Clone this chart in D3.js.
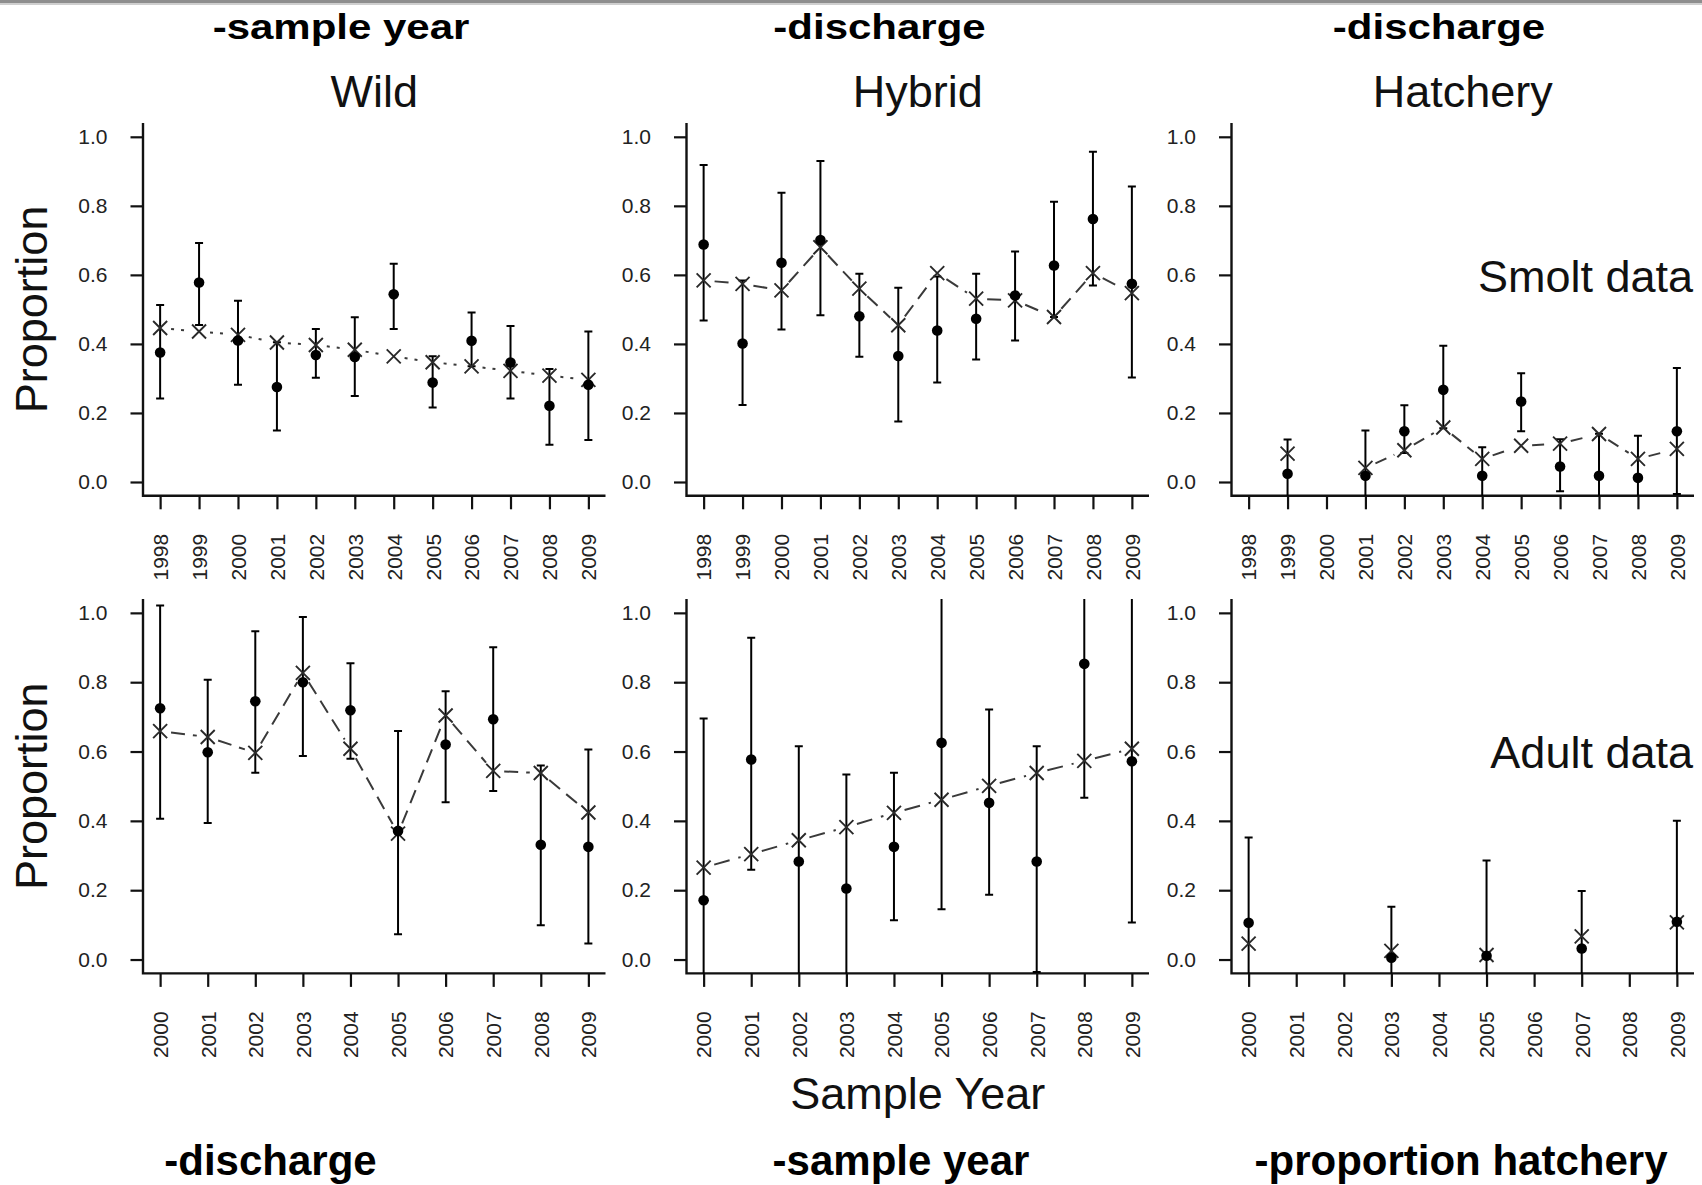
<!DOCTYPE html>
<html>
<head>
<meta charset="utf-8">
<script src="https://cdnjs.cloudflare.com/ajax/libs/d3/7.8.5/d3.min.js"></script>
<style>
  body { margin: 0; background: #fff; }
  svg { display: block; }
</style>
</head>
<body>
<svg id="chart"></svg>
<script>
/* global d3 */

// years on the x axes
const smoltYears = [1998, 1999, 2000, 2001, 2002, 2003, 2004, 2005, 2006, 2007, 2008, 2009];
const adultYears = [2000, 2001, 2002, 2003, 2004, 2005, 2006, 2007, 2008, 2009];
const yTicks = [0, 0.2, 0.4, 0.6, 0.8, 1.0];

const groupTitles = ['Wild', 'Hybrid', 'Hatchery'];
const rowNotes = ['Smolt data', 'Adult data'];
const topNotes = ['-sample year', '-discharge', '-discharge'];
const bottomNotes = ['-discharge', '-sample year', '-proportion hatchery'];

// smolt data (observed proportion, lower / upper bar, model fit)
const wildSmoltObs = [0.375, 0.578, 0.41, 0.275, 0.368, 0.362, 0.544, 0.288, 0.409, 0.346, 0.221, 0.282];
const wildSmoltLo  = [0.242, 0.455, 0.282, 0.149, 0.302, 0.249, 0.443, 0.216, 0.335, 0.242, 0.108, 0.122];
const wildSmoltHi  = [0.513, 0.692, 0.525, 0.405, 0.443, 0.477, 0.632, 0.364, 0.491, 0.452, 0.327, 0.436];
const wildSmoltFit = [0.446, 0.436, 0.426, 0.404, 0.397, 0.383, 0.364, 0.347, 0.335, 0.322, 0.308, 0.296];

const hybridSmoltObs = [0.688, 0.401, 0.635, 0.701, 0.48, 0.365, 0.439, 0.473, 0.54, 0.627, 0.762, 0.574];
const hybridSmoltLo  = [0.468, 0.223, 0.442, 0.483, 0.363, 0.175, 0.288, 0.355, 0.41, 0.478, 0.569, 0.303];
const hybridSmoltHi  = [0.918, 0.584, 0.838, 0.93, 0.603, 0.563, 0.595, 0.603, 0.668, 0.812, 0.957, 0.856];
const hybridSmoltFit = [0.584, 0.574, 0.555, 0.68, 0.56, 0.454, 0.605, 0.531, 0.526, 0.478, 0.605, 0.547];

const hatcherySmoltObs = [null, 0.024, null, 0.018, 0.147, 0.267, 0.018, 0.233, 0.045, 0.018, 0.012, 0.147];
const hatcherySmoltLo  = [null, -0.06, null, -0.06, 0.084, 0.156, -0.06, 0.147, -0.027, -0.06, -0.06, -0.035];
const hatcherySmoltHi  = [null, 0.123, null, 0.149, 0.222, 0.395, 0.101, 0.315, 0.124, 0.14, 0.134, 0.33];
const hatcherySmoltFit = [null, 0.082, null, 0.041, 0.092, 0.158, 0.067, 0.105, 0.111, 0.139, 0.067, 0.096];

// adult data
const wildAdultObs = [0.725, 0.598, 0.745, 0.80, 0.719, 0.371, 0.62, 0.693, 0.331, 0.325];
const wildAdultLo  = [0.406, 0.394, 0.539, 0.587, 0.579, 0.073, 0.454, 0.486, 0.099, 0.046];
const wildAdultHi  = [1.021, 0.807, 0.947, 0.988, 0.855, 0.659, 0.774, 0.901, 0.56, 0.606];
const wildAdultFit = [0.659, 0.642, 0.596, 0.827, 0.608, 0.363, 0.704, 0.544, 0.538, 0.424];

const hybridAdultObs = [0.171, 0.577, 0.283, 0.205, 0.325, 0.625, 0.452, 0.283, 0.853, 0.572];
const hybridAdultLo  = [-0.1, 0.259, -0.1, -0.1, 0.113, 0.145, 0.187, -0.036, 0.467, 0.107];
const hybridAdultHi  = [0.695, 0.928, 0.615, 0.534, 0.539, 1.1, 0.721, 0.615, 1.1, 1.1];
const hybridAdultFit = [0.265, 0.304, 0.344, 0.382, 0.423, 0.461, 0.501, 0.538, 0.573, 0.608];

const hatcheryAdultObs = [0.106, null, null, 0.005, null, 0.011, null, 0.032, null, 0.109];
const hatcheryAdultLo  = [-0.1, null, null, -0.1, null, -0.1, null, -0.1, null, -0.1];
const hatcheryAdultHi  = [0.352, null, null, 0.152, null, 0.286, null, 0.198, null, 0.40];
const hatcheryAdultFit = [0.046, null, null, 0.025, null, 0.013, null, 0.067, null, 0.107];

// layout
const config = {
  width: 1702,
  height: 1185,
  colLeft: [143, 686.5, 1231.5],
  plotWidth: 462.5,
  rows: [ { top: 123, bottom: 495.8 }, { top: 599, bottom: 973.4 } ],
  font: '"Liberation Sans", Arial, Helvetica, sans-serif',
};

const panels = [
  { row: 0, col: 0, years: smoltYears, obs: wildSmoltObs, lo: wildSmoltLo, hi: wildSmoltHi, fit: wildSmoltFit, dash: '3,7' },
  { row: 0, col: 1, years: smoltYears, obs: hybridSmoltObs, lo: hybridSmoltLo, hi: hybridSmoltHi, fit: hybridSmoltFit, dash: '14,8' },
  { row: 0, col: 2, years: smoltYears, obs: hatcherySmoltObs, lo: hatcherySmoltLo, hi: hatcherySmoltHi, fit: hatcherySmoltFit, dash: '12,8' },
  { row: 1, col: 0, years: adultYears, obs: wildAdultObs, lo: wildAdultLo, hi: wildAdultHi, fit: wildAdultFit, dash: '14,8' },
  { row: 1, col: 1, years: adultYears, obs: hybridAdultObs, lo: hybridAdultLo, hi: hybridAdultHi, fit: hybridAdultFit, dash: '16,9' },
  { row: 1, col: 2, years: adultYears, obs: hatcheryAdultObs, lo: hatcheryAdultLo, hi: hatcheryAdultHi, fit: hatcheryAdultFit, dash: '14,8' },
];

const svg = d3.select('#chart')
  .attr('width', config.width)
  .attr('height', config.height)
  .style('font-family', config.font);

// grey window edge at the very top
svg.append('rect').attr('x', 0).attr('y', 0).attr('width', config.width).attr('height', 3).attr('fill', '#8e8e8e');
svg.append('rect').attr('x', 0).attr('y', 3).attr('width', config.width).attr('height', 2).attr('fill', '#cfcfcf');

const defs = svg.append('defs');

panels.forEach((p, i) => drawPanel(p, i));

// titles over the columns
groupTitles.forEach((t, c) => {
  svg.append('text')
    .attr('x', config.colLeft[c] + config.plotWidth / 2)
    .attr('y', 107)
    .attr('text-anchor', 'middle')
    .attr('font-size', 45)
    .attr('fill', '#111')
    .text(t);
});

// row notes on the right
rowNotes.forEach((t, r) => {
  svg.append('text')
    .attr('x', 1693)
    .attr('y', r === 0 ? 292 : 768)
    .attr('text-anchor', 'end')
    .attr('font-size', 45)
    .attr('fill', '#111')
    .text(t);
});

// y axis titles
config.rows.forEach(rw => {
  const cy = (rw.top + rw.bottom) / 2;
  svg.append('text')
    .attr('transform', `translate(47, ${cy}) rotate(-90)`)
    .attr('text-anchor', 'middle')
    .attr('font-size', 45)
    .attr('fill', '#111')
    .text('Proportion');
});

// x axis title
svg.append('text')
  .attr('x', config.colLeft[1] + config.plotWidth / 2)
  .attr('y', 1109)
  .attr('text-anchor', 'middle')
  .attr('font-size', 45)
  .attr('fill', '#111')
  .text('Sample Year');

// bold notes added above and below the figure
topNotes.forEach((t, c) => {
  svg.append('text')
    .attr('transform', `translate(${[341, 879.5, 1439][c]}, 39) scale(1, 0.84)`)
    .attr('text-anchor', 'middle')
    .attr('font-size', 42)
    .attr('font-weight', 'bold')
    .attr('fill', '#000')
    .text(t);
});

bottomNotes.forEach((t, c) => {
  svg.append('text')
    .attr('x', [270.5, 901, 1461][c])
    .attr('y', 1175)
    .attr('text-anchor', 'middle')
    .attr('font-size', 42)
    .attr('font-weight', 'bold')
    .attr('fill', '#000')
    .text(t);
});

// draw one panel: axes, error bars, model line, points
function drawPanel(p, idx) {
  const rw = config.rows[p.row];
  const left = config.colLeft[p.col];
  const right = left + config.plotWidth;
  const n = p.years.length;
  const pad = 0.04 * (n - 1);

  const x = d3.scaleLinear()
    .domain([p.years[0] - pad, p.years[n - 1] + pad])
    .range([left, right]);

  const y = d3.scaleLinear()
    .domain([-0.04, 1.04])
    .range([rw.bottom, rw.top]);

  const g = svg.append('g').attr('class', 'panel');

  // y axis
  const yAxis = d3.axisLeft(y)
    .tickValues(yTicks)
    .tickSize(12.5)
    .tickPadding(23)
    .tickFormat(d3.format('.1f'));

  const gy = g.append('g')
    .attr('transform', `translate(${left}, 0)`)
    .call(yAxis);
  gy.select('.domain').remove();
  gy.selectAll('line').attr('stroke', '#111').attr('stroke-width', 2.2);
  gy.selectAll('text')
    .attr('font-size', 21)
    .attr('font-family', config.font)
    .attr('fill', '#222');

  // x axis
  const xAxis = d3.axisBottom(x)
    .tickValues(p.years)
    .tickSize(13.5)
    .tickFormat(d3.format('d'));

  const gx = g.append('g')
    .attr('transform', `translate(0, ${rw.bottom})`)
    .call(xAxis);
  gx.select('.domain').remove();
  gx.selectAll('line').attr('stroke', '#111').attr('stroke-width', 2.2);
  gx.selectAll('text')
    .attr('font-size', 21)
    .attr('font-family', config.font)
    .attr('fill', '#222')
    .attr('transform', 'rotate(-90)')
    .attr('x', -38)
    .attr('y', 0)
    .attr('dy', '0.35em')
    .attr('text-anchor', 'end');

  // L-shaped frame
  g.append('path')
    .attr('d', `M${left},${rw.top}V${rw.bottom}H${right}`)
    .attr('fill', 'none')
    .attr('stroke', '#111')
    .attr('stroke-width', 2.4);

  // clip marks to the plot region
  const clipId = 'clip' + idx;
  defs.append('clipPath').attr('id', clipId)
    .append('rect')
    .attr('x', left).attr('y', rw.top)
    .attr('width', config.plotWidth).attr('height', rw.bottom - rw.top);

  const marks = g.append('g').attr('clip-path', `url(#${clipId})`);

  const rows = p.years.map((yr, i) => ({ yr, obs: p.obs[i], lo: p.lo[i], hi: p.hi[i], fit: p.fit[i] }));
  const withObs = rows.filter(d => d.obs !== null);

  // error bars with caps
  const bars = marks.append('g')
    .attr('stroke', '#000')
    .attr('stroke-width', 2);

  bars.selectAll('.bar').data(withObs).enter().append('line')
    .attr('x1', d => x(d.yr)).attr('x2', d => x(d.yr))
    .attr('y1', d => y(d.lo)).attr('y2', d => y(d.hi));

  ['lo', 'hi'].forEach(k => {
    bars.selectAll('.cap-' + k).data(withObs).enter().append('line')
      .attr('x1', d => x(d.yr) - 4).attr('x2', d => x(d.yr) + 4)
      .attr('y1', d => y(d[k])).attr('y2', d => y(d[k]));
  });

  // model fit line, drawn segment by segment with a gap round each point
  const gap = 11;
  const segs = [];
  for (let i = 0; i < rows.length - 1; i++) {
    const a = rows[i], b = rows[i + 1];
    if (a.fit === null || b.fit === null) continue;
    const x1 = x(a.yr), y1 = y(a.fit), x2 = x(b.yr), y2 = y(b.fit);
    const len = Math.hypot(x2 - x1, y2 - y1);
    if (len <= 2 * gap) continue;
    const ux = (x2 - x1) / len, uy = (y2 - y1) / len;
    segs.push([x1 + ux * gap, y1 + uy * gap, x2 - ux * gap, y2 - uy * gap]);
  }

  marks.append('g').selectAll('line').data(segs).enter().append('line')
    .attr('x1', d => d[0]).attr('y1', d => d[1])
    .attr('x2', d => d[2]).attr('y2', d => d[3])
    .attr('stroke', '#3a3a3a')
    .attr('stroke-width', 2)
    .attr('stroke-dasharray', p.dash);

  // model fit markers (x)
  marks.append('g').selectAll('path')
    .data(rows.filter(d => d.fit !== null)).enter().append('path')
    .attr('transform', d => `translate(${x(d.yr)}, ${y(d.fit)})`)
    .attr('d', 'M-7,-7L7,7M-7,7L7,-7')
    .attr('stroke', '#2a2a2a')
    .attr('stroke-width', 1.9)
    .attr('fill', 'none');

  // observed proportions
  marks.append('g').selectAll('circle')
    .data(withObs).enter().append('circle')
    .attr('cx', d => x(d.yr))
    .attr('cy', d => y(d.obs))
    .attr('r', 5.3)
    .attr('fill', '#000');
}
</script>
</body>
</html>
